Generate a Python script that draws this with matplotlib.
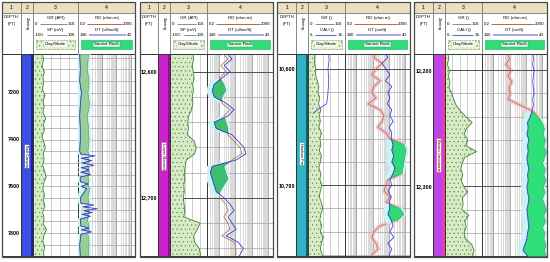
import numpy as np
import matplotlib.pyplot as plt
from matplotlib.patches import Rectangle
from matplotlib.transforms import blended_transform_factory

plt.rcParams['font.family'] = ['Liberation Sans', 'DejaVu Sans']
plt.rcParams['hatch.linewidth'] = 0.4

# ---------------- data ----------------
# panel 1
p1_gr_depth = np.arange(7035, 7911, 25)
p1_gr = [32, 35, 30, 38, 33, 36, 31, 40, 34, 37, 33, 42, 35, 38, 30, 36, 41, 34,
         37, 32, 39, 44, 36, 33, 38, 35, 40, 32, 37, 34, 45, 36, 33, 39, 35, 38]
p1_log_depth = [7035, 7100, 7150, 7200, 7250, 7300, 7350, 7400, 7450, 7462,
                7470, 7480, 7490, 7500, 7510, 7520, 7530, 7540, 7550, 7560,
                7580, 7590, 7600, 7610, 7650, 7672, 7680, 7688, 7696, 7704,
                7712, 7720, 7728, 7740, 7770, 7778, 7786, 7795, 7805, 7850, 7900]
p1_dt = [137, 136, 137, 134, 136, 137, 136, 136, 137, 135,
         110, 134, 116, 133, 112, 134, 120, 135, 118, 136,
         136, 122, 134, 125, 136, 135, 112, 131, 106, 130,
         115, 133, 118, 136, 135, 120, 134, 116, 135, 137, 136]
p1_rd = [1.1, 0.9, 1.2, 1.0, 1.3, 0.9, 1.1, 1.2, 1.0, 1.1,
         1.2, 1.0, 1.3, 1.1, 0.9, 1.2, 1.0, 1.3, 1.1, 1.0,
         1.2, 0.9, 1.1, 1.3, 1.0, 1.2, 0.9, 1.1, 1.0, 1.2,
         1.3, 1.0, 1.1, 0.9, 1.2, 1.0, 1.3, 1.1, 1.0, 1.2, 1.1]
p1_ticks = [7200, 7400, 7600, 7800]
p1_labels = ['7200', '7400', '7600', '7800']
p1_zone, p1_zone_depth = 'Bell Canyon', 7470

# panel 2
p2_depth = np.arange(12585, 12751, 5)
p2_gr = [92, 96, 90, 94, 98, 92, 95, 90, 93, 88, 76, 72, 75, 70, 98, 106, 100,
         66, 62, 58, 60, 56, 58, 54, 57, 60, 56, 122, 110, 96, 100, 118, 124, 112]
p2_dt = [111, 102, 114, 105, 117, 129, 132, 129, 111, 99, 108, 129, 126, 102,
         93, 84, 81, 96, 132, 135, 132, 129, 126, 114, 105, 99, 108, 102, 96,
         111, 93, 85, 90, 96]
p2_rd = [1.6, 3.7, 1.4, 2.8, 1.2, 2.1, 2.8, 1.6, 1.6, 4.9, 2.1, 2.8, 3.7, 3.7,
         8.6, 20, 26, 6.5, 2.1, 2.8, 3.7, 2.1, 1.2, 1.2, 2.8, 3.7, 2.1, 3.7,
         4.9, 1.6, 8.6, 11.4, 11.4, 6.5]
p2_ticks = [12600, 12700]
p2_labels = ['12,600', '12,700']
p2_zone, p2_zone_depth = 'Lower Barnett', 12667

# panel 3
p3_depth = np.arange(10585, 10766, 5)
p3_gr = [22, 28, 25, 32, 30, 38, 44, 40, 48, 42, 52, 46, 50, 44, 55, 48, 52,
         46, 54, 50, 44, 52, 48, 56, 50, 46, 54, 60, 52, 48, 56, 50, 62, 54,
         50, 58, 52]
p3_dt = [80, 74, 83, 77, 71, 78, 68, 74, 71, 75, 68, 71, 66, 72, 68, 69, 66,
         68, 65, 68, 63, 66, 71, 68, 74, 69, 72, 71, 74, 69, 66, 71, 65, 74,
         68, 72, 69]
p3_rd = [21, 12, 38, 16, 9, 29, 12, 9, 16, 5.2, 29, 50, 38, 21, 67, 118, 850,
         1136, 980, 850, 743, 646, 89, 67, 50, 118, 67, 485, 850, 364, 29, 12,
         9, 16, 21, 9, 12]
p3_cali_depth = [10585, 10592, 10600, 10608, 10616, 10624, 10630, 10634, 10638]
p3_cali = [11.5, 11.7, 11.4, 11.6, 11.5, 11.3, 11.0, 9.0, 7.4]
p3_ticks = [10600, 10700]
p3_labels = ['10,600', '10,700']
p3_zone, p3_zone_depth = 'Hudson Fm', 10673

# panel 4
p4_depth = np.arange(12185, 12361, 5)
p4_gr = [12, 15, 10, 18, 14, 20, 16, 28, 35, 45, 62, 85, 110, 88, 78, 92, 84,
         128, 80, 70, 64, 72, 66, 76, 92, 70, 74, 68, 96, 80, 86, 78, 82, 108,
         118, 112]
p4_dt = [62, 61, 62, 60, 61, 62, 61, 60, 62, 61, 63, 66, 70, 69, 71, 68, 70,
         69, 71, 70, 68, 70, 69, 71, 70, 68, 69, 71, 70, 69, 68, 70, 71, 74,
         77, 70]
p4_rd = [7, 10, 6, 12, 8, 14, 9, 11, 8, 44, 240, 560, 980, 1300, 1100, 1500,
         1200, 1700, 1300, 1000, 1500, 1200, 1600, 1100, 1400, 980, 1300, 1700,
         1200, 1500, 1000, 1400, 1200, 1600, 1300, 1700]
p4_ticks = [12200, 12300]
p4_labels = ['12,200', '12,300']
p4_zone, p4_zone_depth = 'Brown Limestone', 12273

# ---------------- layout ----------------
W, H = 550, 262
Y_HEAD, Y_LOG, Y_BOT = 13, 54, 256
FS = 3.2

fig = plt.figure(figsize=(5.5, 2.62), dpi=100)


def box(x, y, w, h):
    return [x / W, 1 - (y + h) / H, w / W, h / H]


ov = fig.add_axes([0, 0, 1, 1])
ov.set_xlim(0, W)
ov.set_ylim(H, 0)
ov.axis('off')


def scale_row(x0, x1, y, left, right, color, lw):
    ov.text(x0 + 1.5, y, left, fontsize=FS, ha='left', va='center')
    ov.text(x1 - 1.5, y, right, fontsize=FS, ha='right', va='center')
    ov.plot([x0 + 3 + len(left) * 2.1, x1 - 3 - len(right) * 2.1], [y, y],
            color=color, lw=lw, solid_capstyle='butt')


def header(xs, second):
    for i in range(4):
        xa, xb = xs[i], xs[i + 1]
        ov.add_patch(Rectangle((xa, 2), xb - xa, Y_HEAD - 2, fc='#ebdfc2',
                               ec='#6f6f6f', lw=0.5))
        ov.text((xa + xb) / 2, 7.5, str(i + 1), fontsize=3.6, ha='center',
                va='center')
        ov.add_patch(Rectangle((xa, Y_HEAD), xb - xa, Y_LOG - Y_HEAD,
                               fc='white', ec='#6f6f6f', lw=0.5))
    cx = (xs[0] + xs[1]) / 2
    ov.text(cx, 17.5, 'DEPTH', fontsize=FS, ha='center', va='center')
    ov.text(cx, 23.5, '(FT)', fontsize=FS, ha='center', va='center')
    ov.text((xs[1] + xs[2]) / 2, 24, 'Zoning', fontsize=FS, ha='center',
            va='center', rotation=270)
    a, b = xs[2], xs[3]
    if second == 'sp':
        ov.text((a + b) / 2, 18, 'GR (API)', fontsize=FS, ha='center', va='center')
        scale_row(a, b, 24, '0.', '150.', '#7a9a6a', 0.7)
        ov.text((a + b) / 2, 29.5, 'SP (mV)', fontsize=FS, ha='center', va='center')
        scale_row(a, b, 34.5, '-100.', '100.', '#8a8a8a', 0.7)
    else:
        ov.text((a + b) / 2, 18, 'GR ()', fontsize=FS, ha='center', va='center')
        scale_row(a, b, 24, '0.', '150.', '#7a9a6a', 0.7)
        ov.text((a + b) / 2, 29.5, 'CALI ()', fontsize=FS, ha='center', va='center')
        scale_row(a, b, 34.5, '6.', '16.', '#6a6ad8', 0.8)
    ov.add_patch(Rectangle((a + 3, 39.5), b - a - 6, 9, fc='#e4f1d6',
                           ec='#6a9a5a', lw=0.4, ls='--', hatch='....'))
    ov.text((a + b) / 2, 44, 'Clay/Shale', fontsize=FS, ha='center', va='center',
            bbox=dict(fc='#f4f9ec', ec='none', pad=0.4))
    a, b = xs[3], xs[4]
    ov.text((a + b) / 2, 18, 'RD (ohm.m)', fontsize=FS, ha='center', va='center')
    scale_row(a, b, 24, '0.2', '2000.', '#b9674a', 0.7)
    dt_unit = 'DT (uSec/ft)' if second == 'sp' else 'DT (us/ft)'
    ov.text((a + b) / 2, 29.5, dt_unit, fontsize=FS, ha='center', va='center')
    scale_row(a, b, 34.5, '140.', '40.', '#8c8ce6', 1.1)
    ov.add_patch(Rectangle((a + 3, 39.5), b - a - 6, 9.5, fc='#2fdc78',
                           ec='#1fae5a', lw=0.4))
    ov.text((a + b) / 2, 44.3, 'Source Rock', fontsize=FS, ha='center',
            va='center', bbox=dict(fc='#d9fbe6', ec='#1fae5a', lw=0.3, pad=0.5))


def depth_grid(ax, top, bottom, step, major):
    for d in np.arange(np.ceil(top / step) * step, bottom, step):
        ax.axhline(d, color='#a2a2a2', lw=0.5, zorder=0.6)
    if major:
        for d in np.arange(np.ceil(top / major) * major, bottom, major):
            ax.axhline(d, color='#505050', lw=0.7, zorder=1.5)


def clean(ax):
    ax.set_xticks([])
    ax.set_yticks([])
    ax.set_xticks([], minor=True)
    for s in ax.spines.values():
        s.set_color('#333333')
        s.set_linewidth(0.7)


def panel(xs, top, bottom, second, gr_depth, gr, log_depth, dt, rd, ticks,
          labels, zone, zone_depth, bar, bar_edge, tag_edge, step, major,
          green, halo, cali_depth=None, cali=None):
    header(xs, second)
    h = Y_BOT - Y_LOG

    # track 1: depth labels
    ax1 = fig.add_axes(box(xs[0], Y_LOG, xs[1] - xs[0], h))
    ax1.set_xlim(0, 1)
    ax1.set_ylim(bottom, top)
    clean(ax1)
    tr = blended_transform_factory(ax1.transAxes, ax1.transData)
    for d, lab in zip(ticks, labels):
        ax1.text(0.96, d, lab, transform=tr, fontsize=3.9, fontweight='bold',
                 ha='right', va='center')

    # track 2: zone bar
    ax2 = fig.add_axes(box(xs[1], Y_LOG, xs[2] - xs[1], h))
    ax2.set_xlim(0, 1)
    ax2.set_ylim(bottom, top)
    clean(ax2)
    ax2.set_facecolor(bar)
    ax2.axvline(0.9, color=bar_edge, lw=1.2)
    ax2.text(0.45, zone_depth, zone, fontsize=3.0, rotation=270, ha='center',
             va='center', bbox=dict(fc='white', ec=tag_edge, lw=0.5, pad=0.6))

    # track 3: GR with shale fill
    ax3 = fig.add_axes(box(xs[2], Y_LOG, xs[3] - xs[2], h))
    ax3.set_xlim(0, 150)
    ax3.set_ylim(bottom, top)
    clean(ax3)
    for g in [30, 60, 90, 120]:
        ax3.axvline(g, color='#bcbcbc', lw=0.5, zorder=0.5)
    depth_grid(ax3, top, bottom, step, major)
    ax3.fill_betweenx(gr_depth, 0, gr, fc='#d6ebc6', ec='#5e9450', hatch='....',
                      lw=0, zorder=2)
    ax3.plot(gr, gr_depth, color='#3f7f35', lw=0.6, zorder=3)
    if cali is not None:
        axc = ax3.twiny()
        axc.set_xlim(6, 16)
        axc.plot(cali, cali_depth, color='#4a4ae0', lw=0.6)
        clean(axc)
        for s in axc.spines.values():
            s.set_visible(False)

    # track 4: RD (log) and DT with source rock fill
    ax4 = fig.add_axes(box(xs[3], Y_LOG, xs[4] - xs[3], h))
    ax4.set_xscale('log')
    ax4.set_xlim(0.2, 2000)
    ax4.set_ylim(bottom, top)
    clean(ax4)
    for dec in [0.1, 1, 10, 100, 1000]:
        for m in range(1, 10):
            v = dec * m
            if 0.2 <= v <= 2000:
                ax4.axvline(v, color='#8c8c8c' if m == 1 else '#cacaca',
                            lw=0.5, zorder=0.5)
    depth_grid(ax4, top, bottom, step, major)
    if halo:
        ax4.plot(rd, log_depth, color='#f5bcc6', lw=3.2, alpha=0.75, zorder=0.8,
                 solid_capstyle='butt')
    ax4.plot(rd, log_depth, color='#b0704a', lw=0.55, zorder=4)
    axd = ax4.twiny()
    axd.set_xlim(140, 40)
    rd_eq = 140 - (np.log10(rd) - np.log10(0.2)) / 4 * 100
    dt_arr = np.array(dt, dtype=float)
    src = rd_eq < dt_arr
    axd.fill_betweenx(log_depth, dt_arr + 9, np.maximum(rd_eq - 4, 40), where=src,
                      interpolate=True, fc='#c8f5f2', lw=0, zorder=0.9)
    axd.fill_betweenx(log_depth, dt_arr, rd_eq, where=src,
                      interpolate=True, fc=green, ec='#3d7a4a', lw=0.3,
                      zorder=1)
    axd.plot(dt, log_depth, color='#3a3ad6', lw=0.6, zorder=3)
    clean(axd)
    for s in axd.spines.values():
        s.set_visible(False)

    return xs


frames = []
frames.append(panel([2, 21, 33, 78, 135], 7034, 7898, 'sp',
                    p1_gr_depth, p1_gr, p1_log_depth, p1_dt, p1_rd,
                    p1_ticks, p1_labels, p1_zone, p1_zone_depth,
                    '#3c4fe2', '#16198a', '#3c4fe2', 50, None, '#98cf98', False))
frames.append(panel([140, 158, 170, 207, 273], 12586, 12746, 'sp',
                    p2_depth, p2_gr, p2_depth, p2_dt, p2_rd,
                    p2_ticks, p2_labels, p2_zone, p2_zone_depth,
                    '#c824c8', '#8e0a8e', '#e050c0', 20, 100, '#3cc070', False))
frames.append(panel([277, 296, 308, 345, 410], 10587, 10761, 'cali',
                    p3_depth, p3_gr, p3_depth, p3_dt, p3_rd,
                    p3_ticks, p3_labels, p3_zone, p3_zone_depth,
                    '#2fb2c2', '#0e4f5a', '#2fb2c2', 20, 100, '#2fd978', True,
                    p3_cali_depth, p3_cali))
frames.append(panel([414, 433, 445, 482, 547], 12186, 12360, 'cali',
                    p4_depth, p4_gr, p4_depth, p4_dt, p4_rd,
                    p4_ticks, p4_labels, p4_zone, p4_zone_depth,
                    '#c044ea', '#ff3a8a', '#ff3a8a', 20, 100, '#2fe07a', True))

# outer frames on top
top_ov = fig.add_axes([0, 0, 1, 1])
top_ov.set_xlim(0, W)
top_ov.set_ylim(H, 0)
top_ov.axis('off')
top_ov.patch.set_alpha(0)
for xs in frames:
    top_ov.add_patch(Rectangle((xs[0], 2), xs[-1] - xs[0], Y_BOT - 2 + 1,
                               fill=False, ec='#4a4a4a', lw=0.9))

fig.savefig('out.png', dpi=100)
